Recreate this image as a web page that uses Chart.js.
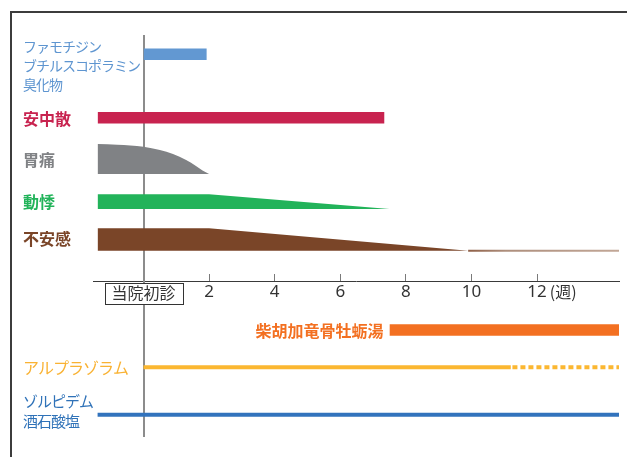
<!DOCTYPE html>
<html lang="ja">
<head>
<meta charset="utf-8">
<title>臨床経過</title>
<script src="https://cdn.jsdelivr.net/npm/chart.js@4.4.1/dist/chart.umd.min.js"></script>
<style>
  html, body { margin: 0; padding: 0; background: #fff; overflow: hidden; }
  #wrap { position: relative; width: 627px; height: 457px; overflow: hidden; }
  #chart { display: block; }
  #frame { position: absolute; left: 10px; top: 11px; width: 650px; height: 480px;
           border-top: 2px solid #3c3c3c; border-left: 2px solid #3c3c3c; pointer-events: none; }
</style>
</head>
<body>
<div id="wrap">
  <canvas id="chart" width="627" height="457"></canvas>
  <div id="frame"></div>
</div>
<script>
// ---------------- data ----------------
const weekMin = -1.54;
const weekMax = 14.5;
const tickWeeks = [0, 2, 4, 6, 8, 10, 12];
const tickLabels = ['当院初診', '2', '4', '6', '8', '10', '12'];
const weekUnit = '(週)';

const famoName = ['ファモチジン', 'ブチルスコポラミン', '臭化物'];
const famoWeeks = [0, 1.93];

const anchuName = ['安中散'];
const anchuWeeks = [-1.4, 7.35];

const painName = ['胃痛'];
const painWeeks = [-1.4, -0.8, 0, 0.5, 0.9, 1.3, 1.6, 1.8, 2.0];
const painLevel = [3.0, 2.93, 2.73, 2.4, 2.0, 1.4, 0.8, 0.35, 0];

const palpName = ['動悸'];
const palpWeeks = [-1.4, 2, 7.5];
const palpLevel = [1.47, 1.47, 0];

const anxName = ['不安感'];
const anxWeeks = [-1.4, 2, 9.9];
const anxLevel = [2.24, 2.24, 0];
const anxTailWeeks = [9.9, 14.5];

const saikoName = ['柴胡加竜骨牡蛎湯'];
const saikoWeeks = [7.5, 14.5];

const alpraName = ['アルプラゾラム'];
const alpraWeeks = [0, 11.2];
const alpraTaperWeeks = [11.25, 14.5];

const zolpName = ['ゾルピデム', '酒石酸塩'];
const zolpWeeks = [-1.4, 14.5];

// ---------------- layout (lane levels on the hidden vertical scale) ----------------
const lane = { famo: 37.6, anchu: 31.25, pain: 26.2, palp: 22.7, anx: 18.53, axis: 15.43, saiko: 10.03, alpra: 6.87, zolp: 2.13 };
const barThick = 1.15;
const JP = '"Noto Sans CJK JP", "Noto Sans", sans-serif';

const colors = {
  famo: '#6298D2', anchu: '#C8234F', pain: '#808285', palp: '#22B35A', anx: '#7A4528',
  saiko: '#F37021', alpra: '#FBB731', zolp: '#3273BD'
};

const profilePts = (weeks, base, levels) => weeks.map((w, i) => ({ x: w, y: base + levels[i] }));
const flatPts = (weeks, value) => weeks.map(w => ({ x: w, y: value }));

function areaSet(label, data, base, color, extra) {
  return Object.assign({ label, data, fill: { value: base }, backgroundColor: color,
    borderColor: 'rgba(0,0,0,0)', borderWidth: 0, pointRadius: 0, tension: 0 }, extra || {});
}
function lineSet(label, data, color, width, extra) {
  return Object.assign({ label, data, fill: false, borderColor: color, borderWidth: width,
    pointRadius: 0, borderCapStyle: 'butt', tension: 0 }, extra || {});
}

const datasets = [
  areaSet(famoName.join(''), flatPts(famoWeeks, lane.famo + barThick), lane.famo, colors.famo),
  areaSet(anchuName[0], flatPts(anchuWeeks, lane.anchu + barThick), lane.anchu, colors.anchu),
  areaSet(painName[0], profilePts(painWeeks, lane.pain, painLevel), lane.pain, colors.pain, { cubicInterpolationMode: 'monotone' }),
  areaSet(palpName[0], profilePts(palpWeeks, lane.palp, palpLevel), lane.palp, colors.palp),
  areaSet(anxName[0], profilePts(anxWeeks, lane.anx, anxLevel), lane.anx, colors.anx),
  lineSet(anxName[0] + '（残存）', flatPts(anxTailWeeks, lane.anx), (ctx) => {
    const chart = ctx.chart;
    if (!chart.chartArea) return '#a88571';
    const xs = chart.scales.x;
    const g = chart.ctx.createLinearGradient(xs.getPixelForValue(anxTailWeeks[0]), 0, xs.getPixelForValue(anxTailWeeks[1]), 0);
    g.addColorStop(0, '#8f6047');
    g.addColorStop(0.25, '#ae8f7d');
    g.addColorStop(1, '#c2a797');
    return g;
  }, 2),
  areaSet(saikoName[0], flatPts(saikoWeeks, lane.saiko + barThick), lane.saiko, colors.saiko),
  lineSet(alpraName[0], flatPts(alpraWeeks, lane.alpra), colors.alpra, 4),
  lineSet(alpraName[0] + '（漸減）', flatPts(alpraTaperWeeks, lane.alpra), colors.alpra, 4, { borderDash: [5, 3] }),
  lineSet(zolpName.join(''), flatPts(zolpWeeks, lane.zolp), colors.zolp, 4)
];

const rowLabels = [
  { text: famoName, level: lane.famo + barThick / 2, dy: -7.5, lh: 19, color: '#5E95D0', weight: 400, size: 14, spacing: -1 },
  { text: anchuName, level: lane.anchu + barThick / 2, dy: 1.5, color: colors.anchu, weight: 700, size: 16, spacing: 0 },
  { text: painName, level: lane.pain + painLevel[0] / 2, dy: 1, color: colors.pain, weight: 700, size: 16, spacing: 0 },
  { text: palpName, level: lane.palp + palpLevel[0] / 2, dy: 0.5, color: colors.palp, weight: 700, size: 16, spacing: 0 },
  { text: anxName, level: lane.anx + anxLevel[0] / 2, dy: -0.8, color: colors.anx, weight: 700, size: 16, spacing: 0 },
  { text: saikoName, level: lane.saiko + barThick / 2, dy: 1, color: colors.saiko, weight: 700, size: 16, spacing: 0, rightOfWeek: saikoWeeks[0], gap: 6 },
  { text: alpraName, level: lane.alpra, dy: 0.3, color: '#F9B233', weight: 400, size: 16, spacing: -1 },
  { text: zolpName, level: lane.zolp, dy: -13.2, lh: 19.3, color: '#2F72B8', weight: 400, size: 15, spacing: -1 }
];

const annotations = {
  id: 'annotations',
  afterDatasetsDraw(chart) {
    // boxed label frame for the first-visit tick
    const { ctx, scales: { x, y } } = chart;
    const cx = x.getPixelForValue(tickWeeks[0]);
    const ay = Math.round(y.getPixelForValue(lane.axis));
    ctx.save();
    ctx.font = '400 16px ' + JP;
    const w = ctx.measureText(tickLabels[0]).width + 14;
    ctx.fillStyle = '#fff';
    ctx.fillRect(cx - w / 2, ay + 1, w, 22);
    ctx.strokeStyle = '#333';
    ctx.lineWidth = 1;
    ctx.strokeRect(Math.round(cx - w / 2) + 0.5, ay + 1.5, Math.round(w), 21);
    ctx.restore();
  },
  afterDraw(chart) {
    const { ctx, scales: { x, y } } = chart;
    ctx.save();
    ctx.textBaseline = 'middle';
    rowLabels.forEach(r => {
      ctx.font = r.weight + ' ' + r.size + 'px ' + JP;
      ctx.fillStyle = r.color;
      try { ctx.letterSpacing = r.spacing + 'px'; } catch (e) {}
      let px = 23;
      if (r.rightOfWeek !== undefined) {
        ctx.textAlign = 'right';
        px = x.getPixelForValue(r.rightOfWeek) - r.gap;
      } else {
        ctx.textAlign = 'left';
      }
      const py = y.getPixelForValue(r.level) + r.dy;
      r.text.forEach((t, i) => ctx.fillText(t, px, py + i * (r.lh || 0)));
    });
    try { ctx.letterSpacing = '0px'; } catch (e) {}
    // unit after the last tick
    ctx.font = '400 17px "Noto Sans", ' + JP;
    const lastW = ctx.measureText(tickLabels[tickLabels.length - 1]).width;
    ctx.font = '400 16px ' + JP;
    ctx.fillStyle = '#333';
    ctx.textAlign = 'left';
    ctx.fillText(weekUnit, x.getPixelForValue(tickWeeks[tickWeeks.length - 1]) + lastW / 2 + 3, y.getPixelForValue(lane.axis) + 10.5);
    ctx.restore();
  }
};

new Chart(document.getElementById('chart'), {
  type: 'line',
  data: { datasets },
  options: {
    responsive: false,
    animation: false,
    events: [],
    layout: { padding: { left: 93, right: 8, top: 36, bottom: 21 } },
    plugins: { legend: { display: false }, tooltip: { enabled: false }, title: { display: false } },
    scales: {
      x: {
        type: 'linear',
        min: weekMin,
        max: weekMax,
        position: { y: lane.axis },
        afterBuildTicks: (s) => { s.ticks = tickWeeks.map(v => ({ value: v })); },
        border: { display: true, color: '#3a3a3a', width: 1 },
        grid: {
          display: true,
          drawOnChartArea: false,
          drawTicks: true,
          tickLength: -8,
          color: (c) => (c.tick && c.tick.value === tickWeeks[0]) ? 'rgba(0,0,0,0)' : '#7a7a7a',
          tickColor: (c) => (c.tick && c.tick.value === tickWeeks[0]) ? 'rgba(0,0,0,0)' : '#7a7a7a'
        },
        ticks: {
          z: 1,
          autoSkip: false,
          maxRotation: 0,
          minRotation: 0,
          padding: 8,
          color: '#333',
          font: (c) => (c.tick && c.tick.value === tickWeeks[0])
            ? { family: JP, size: 16, weight: 400, lineHeight: 1.4 }
            : { family: '"Noto Sans", ' + JP, size: 17, weight: 400, lineHeight: 1.2 },
          callback: (v) => { const i = tickWeeks.indexOf(v); return i >= 0 ? tickLabels[i] : ''; }
        }
      },
      y: {
        type: 'linear',
        min: 0,
        max: 40,
        position: { x: 0 },
        ticks: { display: false },
        grid: { display: false },
        border: { display: true, color: '#8c8c8c', width: 2 }
      }
    }
  },
  plugins: [annotations]
});
</script>
</body>
</html>
